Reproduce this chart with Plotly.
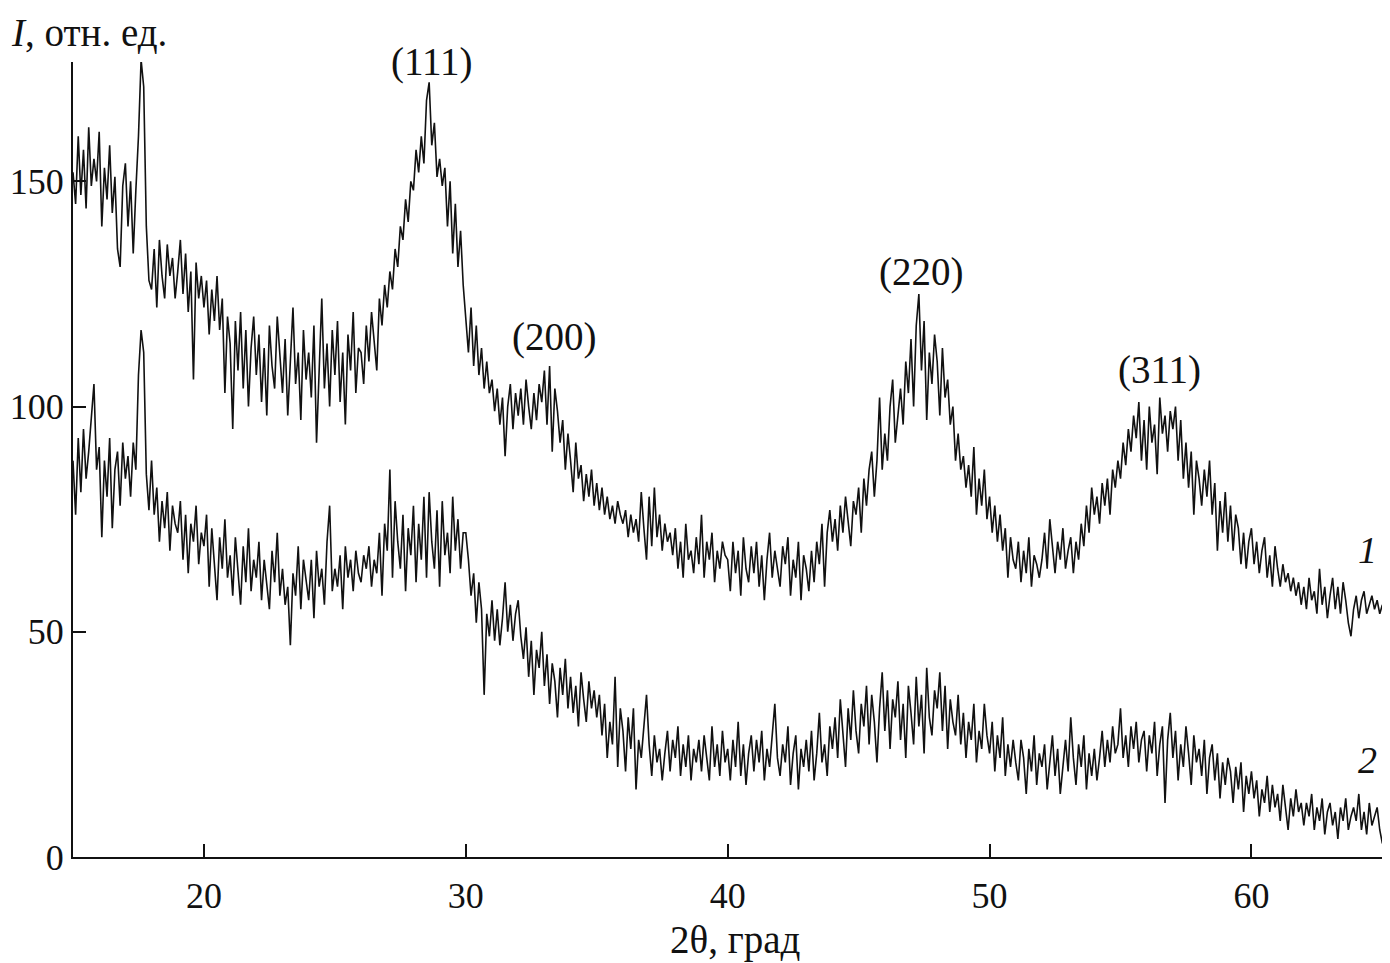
import plotly.graph_objects as go

# X-ray diffraction patterns, 2theta from 15 to 65 deg, step 0.1 deg
X_START = 15.0
X_STEP = 0.1

# curve 1 (rows = one degree each)
I1 = [
    152, 145, 160, 147, 157, 144, 162, 149, 155, 150,
    161, 140, 153, 146, 158, 143, 151, 135, 131, 149,
    154, 140, 150, 134, 148, 160, 177, 171, 140, 128,
    126, 135, 122, 137, 129, 124, 136, 129, 133, 124,
    130, 137, 125, 134, 121, 130, 106, 132, 124, 129,
    122, 128, 116, 126, 119, 129, 117, 124, 103, 120,
    114, 95, 119, 108, 121, 104, 117, 100, 113, 120,
    107, 116, 101, 113, 98, 118, 109, 104, 120, 111,
    103, 115, 98, 110, 122, 105, 112, 97, 117, 106,
    112, 102, 118, 92, 110, 124, 104, 114, 100, 117,
    107, 119, 101, 112, 96, 116, 108, 121, 103, 113,
    112, 105, 118, 110, 121, 114, 108, 124, 118, 127,
    122, 130, 126, 135, 131, 140, 137, 146, 141, 150,
    148, 157, 152, 160, 154, 168, 172, 158, 163, 151,
    155, 149, 153, 140, 150, 134, 145, 131, 139, 127,
    120, 112, 122, 109, 118, 107, 113, 104, 110, 103,
    106, 99, 104, 96, 102, 89, 100, 105, 95, 103,
    98, 104, 96, 106, 100, 95, 103, 97, 105, 101,
    108, 96, 109, 90, 104, 99, 92, 97, 86, 94,
    88, 81, 92, 84, 87, 79, 85, 80, 86, 78,
    83, 77, 82, 76, 80, 75, 78, 74, 79, 76,
    74, 77, 71, 76, 72, 75, 70, 81, 73, 66,
    80, 69, 82, 71, 76, 68, 74, 70, 72, 67,
    73, 64, 70, 62, 74, 66, 68, 63, 71, 65,
    76, 62, 70, 66, 72, 61, 68, 64, 70, 67,
    66, 59, 70, 63, 68, 58, 71, 64, 61, 69,
    63, 70, 60, 67, 57, 66, 72, 62, 68, 64,
    60, 69, 65, 71, 58, 66, 62, 70, 57, 67,
    64, 59, 68, 61, 70, 65, 74, 60, 72, 77,
    70, 75, 68, 78, 72, 80, 74, 69, 79, 76,
    82, 72, 84, 78, 86, 90, 80, 88, 102, 86,
    94, 88, 100, 106, 92, 98, 104, 96, 110, 103,
    115, 100, 118, 125, 108, 119, 97, 112, 105, 116,
    110, 98, 113, 102, 106, 96, 100, 88, 94, 86,
    89, 82, 87, 80, 91, 76, 84, 78, 86, 75,
    80, 72, 78, 70, 76, 68, 73, 62, 71, 66,
    64, 70, 61, 68, 63, 71, 60, 67, 65, 62,
    66, 72, 64, 75, 68, 63, 70, 66, 73, 64,
    68, 71, 63, 70, 66, 74, 69, 78, 72, 82,
    76, 80, 74, 83, 78, 84, 76, 86, 82, 88,
    84, 92, 87, 95, 90, 98, 93, 101, 88, 97,
    86, 100, 92, 96, 85, 102, 94, 98, 90, 99,
    95, 100, 88, 97, 84, 92, 82, 90, 76, 88,
    84, 78, 86, 80, 88, 76, 83, 68, 79, 72,
    81, 70, 78, 68, 76, 73, 65, 72, 64, 70,
    73, 65, 70, 63, 68, 71, 62, 67, 60, 69,
    64, 60, 65, 61, 63, 59, 62, 58, 61, 56,
    60, 55, 62, 57, 59, 54, 64, 56, 60, 53,
    58, 62, 55, 60, 54, 61, 57, 52, 49, 55,
    58, 53, 57, 59, 54, 56, 58, 55, 57, 54,
    56,
]

# curve 2
I2 = [
    88, 76, 93, 81, 95, 84, 90, 97, 105, 86,
    91, 71, 88, 80, 93, 73, 86, 90, 78, 92,
    84, 89, 80, 92, 86, 107, 117, 112, 85, 77,
    88, 76, 82, 70, 79, 73, 81, 68, 78, 74,
    72, 79, 66, 76, 63, 74, 70, 78, 65, 72,
    69, 76, 60, 73, 66, 57, 71, 64, 75, 62,
    67, 58, 71, 63, 56, 69, 61, 73, 59, 66,
    62, 70, 57, 66, 60, 55, 68, 61, 72, 58,
    64, 56, 60, 47, 63, 58, 69, 55, 66, 61,
    57, 66, 53, 68, 60, 64, 56, 70, 78, 59,
    64, 60, 67, 55, 69, 62, 66, 59, 68, 63,
    61, 67, 64, 69, 60, 66, 63, 72, 58, 74,
    68, 86, 62, 79, 70, 64, 76, 59, 73, 67,
    78, 61, 74, 66, 80, 62, 81, 70, 64, 77,
    60, 79, 67, 72, 63, 80, 68, 75, 64, 72,
    72, 66, 58, 63, 52, 61, 55, 36, 54, 49,
    57, 48, 55, 47, 53, 61, 50, 56, 48, 54,
    57, 49, 44, 51, 40, 48, 36, 46, 42, 50,
    38, 45, 34, 43, 39, 31, 42, 36, 44, 33,
    40, 32, 38, 29, 41, 35, 30, 39, 33, 37,
    31, 36, 27, 34, 22, 30, 25, 40, 20, 33,
    28, 19, 31, 24, 33, 15, 26, 22, 29, 36,
    25, 18, 27, 21, 24, 17, 23, 28, 19, 26,
    22, 29, 18, 25, 20, 27, 17, 24, 21, 26,
    19, 27, 22, 17, 29, 20, 25, 18, 28, 21,
    24, 17, 26, 20, 30, 18, 25, 16, 23, 27,
    19, 26, 21, 28, 17, 24, 20, 27, 34, 22,
    18, 25, 21, 29, 16, 23, 27, 15, 24, 20,
    26, 19, 28, 17, 23, 32, 21, 25, 18, 29,
    24, 31, 22, 35, 27, 20, 33, 26, 37, 28,
    23, 34, 29, 38, 25, 36, 30, 21, 33, 41,
    28, 37, 24, 35, 31, 39, 26, 34, 22, 38,
    32, 25, 40, 29, 36, 23, 42, 31, 27, 37,
    33, 41, 28, 38, 24, 35, 30, 27, 36, 25,
    32, 22, 30, 26, 34, 21, 28, 24, 34, 27,
    23, 30, 19, 27, 22, 31, 18, 25, 20, 26,
    21, 17, 26, 22, 14, 24, 19, 27, 16, 23,
    20, 25, 15, 22, 27, 18, 24, 14, 21, 26,
    19, 31, 22, 16, 25, 20, 27, 15, 23, 18,
    24, 17, 22, 28, 20, 26, 21, 29, 23, 25,
    33, 22, 27, 20, 29, 24, 30, 21, 26, 28,
    19, 27, 23, 30, 18, 25, 29, 12, 26, 32,
    22, 28, 17, 25, 20, 29, 23, 16, 27, 21,
    24, 18, 26, 14, 22, 25, 17, 23, 13, 21,
    16, 22, 19, 12, 20, 15, 21, 10, 18, 14,
    19, 13, 17, 9, 15, 12, 18, 10, 16, 11,
    14, 8, 16, 11, 6, 13, 9, 15, 10, 12,
    7, 12, 9, 14, 6, 11, 8, 13, 5, 10,
    12, 7, 10, 4, 11, 8, 13, 6, 9, 11,
    8, 14, 6, 10, 5, 12, 7, 9, 11, 6,
    3,
]

PEAK_LABELS = ["(111)", "(200)", "(220)", "(311)"]
PEAK_POS = [(28.71, 176.5), (33.37, 115.4), (47.39, 129.9), (56.48, 108.1)]
CURVE_LABELS = ["1", "2"]
CURVE_LABEL_POS = [(64.43, 68.2), (64.43, 21.5)]

FONT = "Liberation Serif"
BLACK = "#111111"

fig = go.Figure()
for ys in (I1, I2):
    fig.add_trace(go.Scatter(
        x0=X_START, dx=X_STEP, y=ys, mode="lines",
        line=dict(color=BLACK, width=1.6), showlegend=False,
    ))

for text, (x, y) in zip(PEAK_LABELS, PEAK_POS):
    fig.add_annotation(text=text, x=x, y=y, showarrow=False,
                       font=dict(family=FONT, size=39, color=BLACK))
for text, (x, y) in zip(CURVE_LABELS, CURVE_LABEL_POS):
    fig.add_annotation(text="<i>" + text + "</i>", x=x, y=y, showarrow=False,
                       font=dict(family=FONT, size=38, color=BLACK))

fig.add_annotation(text="<i>I</i>, отн. ед.", xref="paper", yref="paper",
                   x=-0.049, y=1.0665, xanchor="left", yanchor="top",
                   showarrow=False, font=dict(family=FONT, size=39, color=BLACK))
fig.add_annotation(text="2θ, град", xref="paper", yref="paper",
                   x=0.5046, y=-0.104, xanchor="center", yanchor="middle",
                   showarrow=False, font=dict(family=FONT, size=39, color=BLACK))

# page body adds an 8 px offset, so the figure is 8 px smaller
fig.update_layout(
    width=1382, height=955,
    margin=dict(l=65, r=5, t=54, b=106),
    paper_bgcolor="white", plot_bgcolor="white",
    font=dict(family=FONT, size=36, color=BLACK),
)
fig.update_xaxes(
    range=[15, 65.1], tickvals=[20, 30, 40, 50, 60],
    showline=True, linecolor=BLACK, linewidth=2,
    ticks="inside", ticklen=13, tickwidth=2, tickcolor=BLACK,
    showgrid=False, zeroline=False, ticklabelstandoff=6, automargin=False,
)
fig.update_yaxes(
    range=[0, 176.5], tickvals=[0, 50, 100, 150],
    showline=True, linecolor=BLACK, linewidth=2,
    ticks="inside", ticklen=13, tickwidth=2, tickcolor=BLACK,
    showgrid=False, zeroline=False, ticklabelstandoff=0, automargin=False,
)

fig.write_html("out.html")
